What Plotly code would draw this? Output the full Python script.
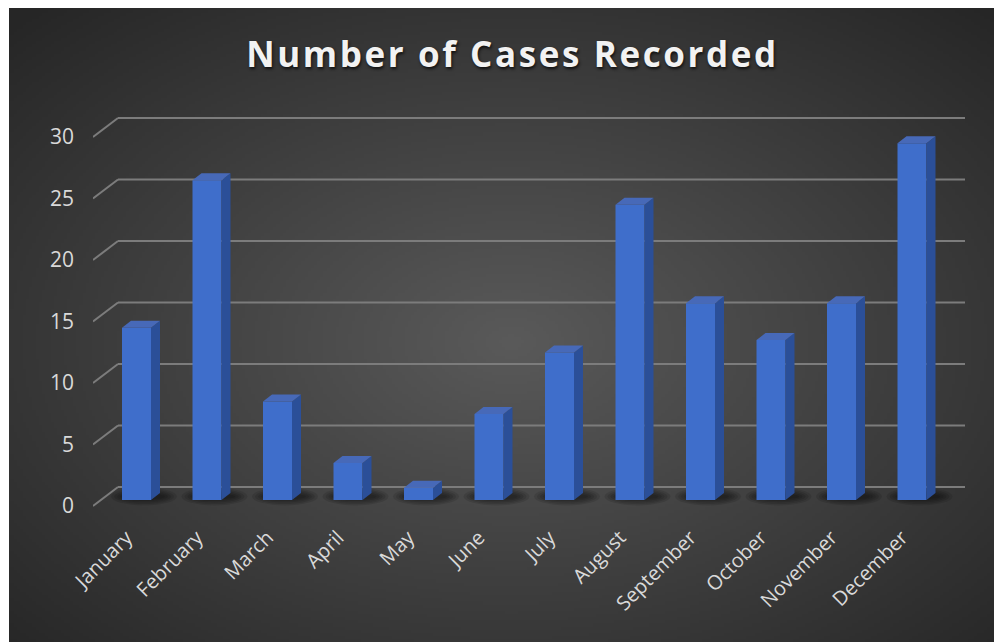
import base64
import struct
import zlib

import numpy as np
import plotly.graph_objects as go

# ---------------- data ----------------
months = ["January", "February", "March", "April", "May", "June", "July",
          "August", "September", "October", "November", "December"]
cases = [14, 26, 8, 3, 1, 7, 12, 24, 16, 13, 16, 29]
y_ticks = [0, 5, 10, 15, 20, 25, 30]
title_text = "Number of Cases Recorded"

# ---------------- geometry / style ----------------
OFF = 8              # page body margin added by the html page
FIG_W, FIG_H = 1002, 642
M_L, M_R, M_T, M_B = 93 - OFF, 30, 110 - OFF, 130
PX_X = 70.5          # pixels per category
PX_Y = 12.3          # pixels per unit
X0_PX = 136.5 - OFF  # pixel of first category centre
Y0_PX = 500 - OFF    # pixel of value 0 (front face)

plot_w = FIG_W - M_L - M_R
plot_h = FIG_H - M_T - M_B
x_min = -(X0_PX - M_L) / PX_X
x_max = x_min + plot_w / PX_X
y_min = -((FIG_H - M_B) - Y0_PX) / PX_Y
y_max = y_min + plot_h / PX_Y

BAR_W = 29 / PX_X
DX = 9 / PX_X        # 3d depth of bars
DY = 7 / PX_Y
WALL_DY = 13 / PX_Y  # back wall offset
FRONT_DY = -6 / PX_Y # front floor edge offset
WALL_X0 = x_min + 25 / PX_X
WALL_X1 = x_min + (965 - OFF - M_L) / PX_X
LABEL_SHIFT = -10 / PX_X

FRONT_COL = "#3f6ecb"
SIDE_COL = "#2b4f98"
TOP_COL = "#4769b8"
GRID_COL = "#7c7c7c"
TEXT_COL = "#d9d9d9"


# ---------------- background radial gradient (png) ----------------
def make_png(w, h):
    yy, xx = np.mgrid[0:h, 0:w]
    cx, cy = w * 0.5, h * 0.52
    r = np.sqrt(((xx - cx) / (w / 2)) ** 2 + ((yy - cy) / (h / 2)) ** 2) / np.sqrt(2)
    r = np.clip(r, 0, 1)
    c0, c1 = 0x5a, 0x26
    v = (c0 + (c1 - c0) * r).astype(np.uint8)
    rgb = np.stack([v, v, v], axis=-1)
    raw = b"".join(b"\x00" + rgb[i].tobytes() for i in range(h))

    def chunk(tag, data):
        c = struct.pack(">I", len(data)) + tag + data
        return c + struct.pack(">I", zlib.crc32(tag + data) & 0xffffffff)

    png = b"\x89PNG\r\n\x1a\n"
    png += chunk(b"IHDR", struct.pack(">IIBBBBB", w, h, 8, 2, 0, 0, 0))
    png += chunk(b"IDAT", zlib.compress(raw, 9))
    png += chunk(b"IEND", b"")
    return "data:image/png;base64," + base64.b64encode(png).decode()


bg_src = make_png(320, 205)

fig = go.Figure()

# front faces
xs = list(range(len(cases)))
fig.add_trace(go.Bar(
    x=xs, y=cases, width=BAR_W,
    marker=dict(color=FRONT_COL, line=dict(width=0)),
    hoverinfo="skip", showlegend=False,
))

# side and top faces (3d look), derived from data
for i, v in zip(xs, cases):
    xr = i + BAR_W / 2
    xl = i - BAR_W / 2
    fig.add_trace(go.Scatter(
        x=[xr, xr, xr + DX, xr + DX, xr],
        y=[0, v, v + DY, DY, 0],
        fill="toself", fillcolor=SIDE_COL, mode="lines",
        line=dict(width=0, color=SIDE_COL), hoverinfo="skip", showlegend=False,
    ))
    fig.add_trace(go.Scatter(
        x=[xl, xl + DX, xr + DX, xr, xl],
        y=[v, v + DY, v + DY, v, v],
        fill="toself", fillcolor=TOP_COL, mode="lines",
        line=dict(width=0, color=TOP_COL), hoverinfo="skip", showlegend=False,
    ))

shapes = []
# soft floor shadows around the bar bases
for i in xs:
    cx = i + DX / 2 + 3 / PX_X
    cy = DY / 2
    for k in range(5):
        hw = (BAR_W / 2 + DX / 2) + (2 + k * 3) / PX_X
        hh = (3 + k * 1.5) / PX_Y
        shapes.append(dict(type="circle", xref="x", yref="y", layer="below",
                           x0=cx - hw, x1=cx + hw, y0=cy - hh, y1=cy + hh,
                           fillcolor="black", opacity=0.11, line=dict(width=0)))

# gridlines on back wall + floor slant
for t in y_ticks:
    shapes.append(dict(type="line", xref="x", yref="y", layer="below",
                       x0=x_min, y0=t + FRONT_DY, x1=WALL_X0, y1=t + WALL_DY,
                       line=dict(color=GRID_COL, width=2)))
    shapes.append(dict(type="line", xref="x", yref="y", layer="below",
                       x0=WALL_X0, y0=t + WALL_DY, x1=WALL_X1, y1=t + WALL_DY,
                       line=dict(color=GRID_COL, width=2)))

# background image covering the dark chart area
bg_x0, bg_y0, bg_x1, bg_y1 = 9 - OFF, 5 - OFF, FIG_W, FIG_H
images = [dict(
    source=bg_src, xref="paper", yref="paper", layer="below",
    x=(bg_x0 - M_L) / plot_w, y=((FIG_H - M_B) - bg_y0) / plot_h,
    sizex=(bg_x1 - bg_x0) / plot_w, sizey=(bg_y1 - bg_y0) / plot_h,
    xanchor="left", yanchor="top", sizing="stretch",
)]

fig.update_layout(
    width=FIG_W, height=FIG_H,
    margin=dict(l=M_L, r=M_R, t=M_T, b=M_B, autoexpand=False),
    paper_bgcolor="white", plot_bgcolor="rgba(0,0,0,0)",
    shapes=shapes, images=images,
    title=dict(
        text='<span style="letter-spacing:2.6px">' + title_text + "</span>",
        x=(512.5 - OFF) / FIG_W, xanchor="center",
        y=1 - (55 - OFF) / FIG_H, yanchor="middle", yref="container",
        font=dict(family="Open Sans", size=35, color="#f2f2f2", weight="bold",
                  shadow="1px 2px 3px #111"),
    ),
    xaxis=dict(
        range=[x_min, x_max], showgrid=False, zeroline=False, showline=False,
        tickmode="array", tickvals=[i + LABEL_SHIFT for i in xs],
        ticktext=months, tickangle=-45,
        ticks="", ticklabelstandoff=1,
        tickfont=dict(family="Open Sans", size=20, color=TEXT_COL),
    ),
    yaxis=dict(
        range=[y_min, y_max], showgrid=False, zeroline=False, showline=False,
        tickmode="array", tickvals=[t + FRONT_DY for t in y_ticks],
        ticktext=[str(t) for t in y_ticks], ticks="", ticklabelstandoff=18,
        tickfont=dict(family="Open Sans", size=21, color=TEXT_COL),
    ),
)

fig.write_html("out.html")
